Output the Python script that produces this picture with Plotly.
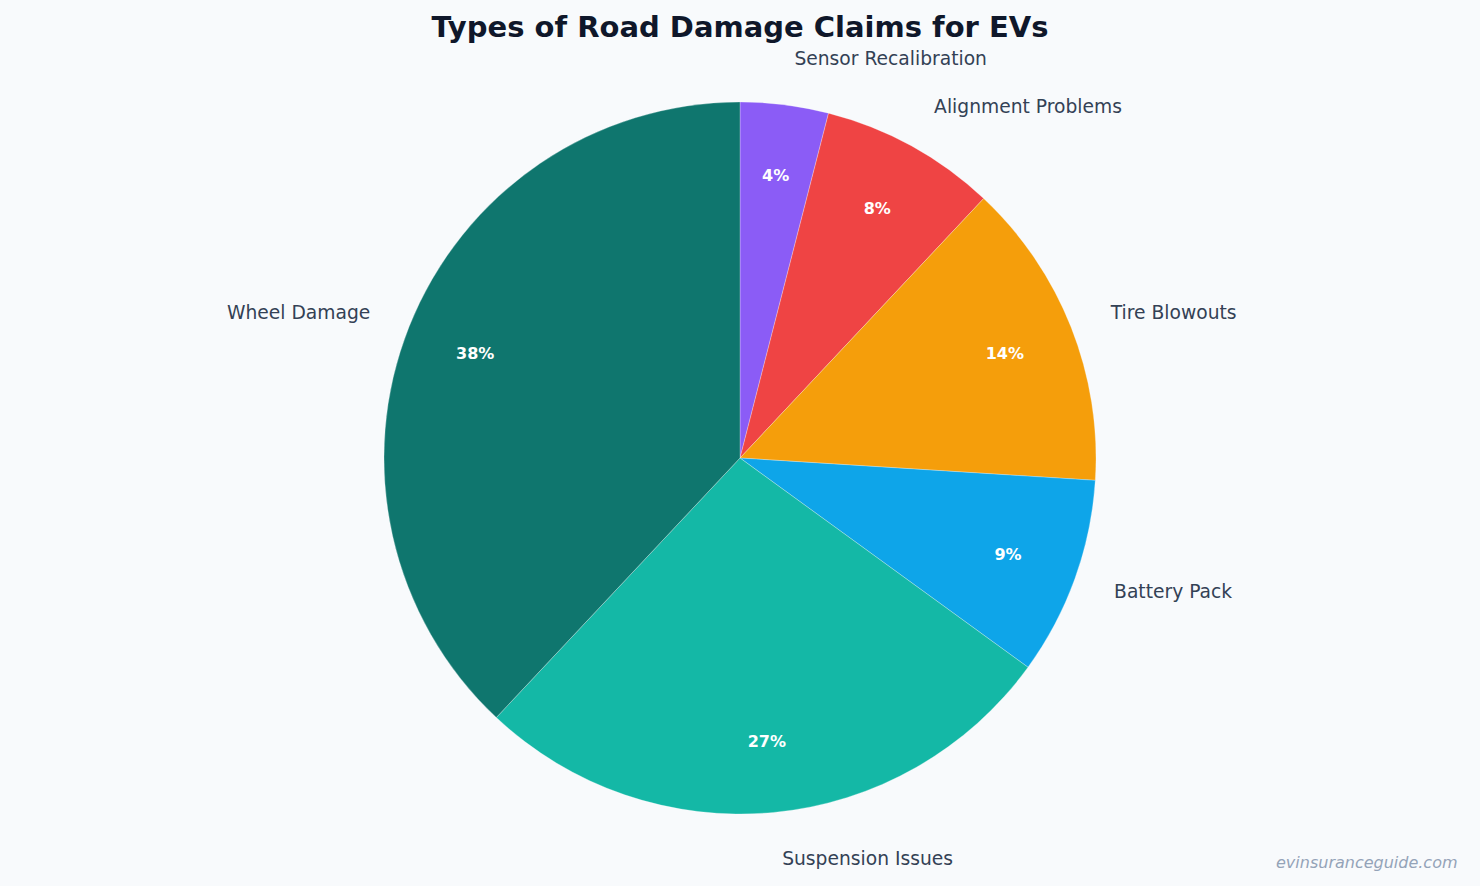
import plotly.graph_objects as go

# claim categories, clockwise from 12 o'clock
categories = ["Sensor Recalibration", "Alignment Problems", "Tire Blowouts",
              "Battery Pack", "Suspension Issues", "Wheel Damage"]
shares = [4, 8, 14, 9, 27, 38]
colors = ["#8b5cf6", "#ef4444", "#f59e0b", "#0ea5e9", "#14b8a6", "#0f766e"]

FONT = "DejaVu Sans"
CLEAR = ["rgba(0,0,0,0)"] * len(categories)

# plot area 66..850 px tall (784), pie centre at y=458
# label pie: radius 392 (1.1 x pie), invisible, only carries the names
label_pie = go.Pie(
    labels=categories,
    values=shares,
    sort=False,
    direction="clockwise",
    rotation=0,
    domain=dict(x=[0, 1], y=[0, 1]),
    marker=dict(colors=CLEAR, line=dict(width=0)),
    textinfo="label",
    textposition="outside",
    outsidetextfont=dict(family=FONT, size=18.7, color="#334155"),
    automargin=False,
    showlegend=False,
    hoverinfo="skip",
)

# the visible pie, radius 356, faint white seams between wedges
main_pie = go.Pie(
    labels=categories,
    values=shares,
    sort=False,
    direction="clockwise",
    rotation=0,
    domain=dict(x=[0, 1], y=[36 / 784, 1 - 36 / 784]),
    marker=dict(colors=colors, line=dict(color="rgba(255,255,255,0.45)", width=0.6)),
    textinfo="none",
    showlegend=False,
    hoverinfo="label+percent",
)

# invisible thin ring between 0.7r and 0.9r so the percentages land near 0.8r
pct_ring = go.Pie(
    labels=categories,
    values=shares,
    sort=False,
    direction="clockwise",
    rotation=0,
    hole=0.7 / 0.9,
    domain=dict(x=[0, 1], y=[71.6 / 784, 1 - 71.6 / 784]),
    marker=dict(colors=CLEAR, line=dict(width=0)),
    texttemplate="%{percent:.0%}",
    textposition="inside",
    insidetextorientation="horizontal",
    insidetextfont=dict(family=FONT, size=16, color="white", weight="bold"),
    showlegend=False,
    hoverinfo="skip",
)

fig = go.Figure(data=[label_pie, main_pie, pct_ring])

fig.update_layout(
    width=1480,
    height=886,
    paper_bgcolor="#f8fafc",
    plot_bgcolor="#f8fafc",
    margin=dict(t=66, b=36, l=0, r=0, autoexpand=False),
    title=dict(
        text="<b>Types of Road Damage Claims for EVs</b>",
        x=0.5, xanchor="center",
        y=1 - 27 / 886, yref="container", yanchor="middle",
        font=dict(family=FONT, size=29, color="#0f172a"),
    ),
    annotations=[dict(
        text="<i>evinsuranceguide.com</i>",
        xref="paper", yref="paper", x=1, y=0,
        xanchor="right", yanchor="middle",
        xshift=-20, yshift=-12,
        showarrow=False,
        font=dict(family=FONT, size=16, color="#94a3b8"),
    )],
)

fig.write_html("out.html", config={"displayModeBar": False},
               post_script="document.body.style.margin='0';")
